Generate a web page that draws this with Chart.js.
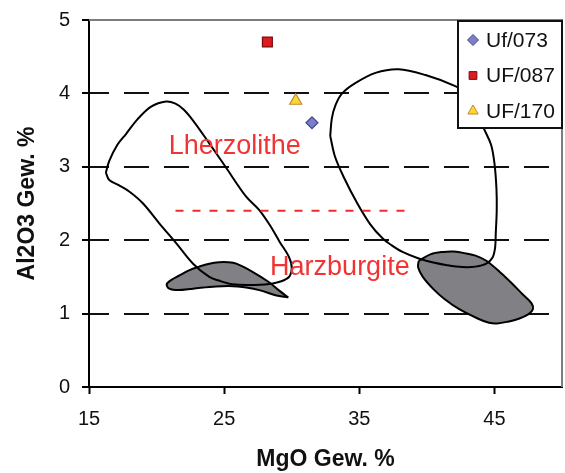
<!DOCTYPE html>
<html>
<head>
<meta charset="utf-8">
<script src="https://cdn.jsdelivr.net/npm/chart.js@4.4.1/dist/chart.umd.min.js"></script>
<style>
  html, body { margin: 0; padding: 0; background: #fff; }
  #wrap { width: 565px; height: 473px; position: relative; }
</style>
</head>
<body>
<div id="wrap"><canvas id="c"></canvas></div>
<script>
// Axis ticks
const xTickValues = [15, 25, 35, 45];
const yTickValues = [0, 1, 2, 3, 4, 5];

// Sample analyses: MgO and Al2O3 in wt. %
const sampleNames = ['Uf/073', 'UF/087', 'UF/170'];
const sampleMgO = [31.5, 28.2, 30.3];
const sampleAl2O3 = [3.6, 4.7, 3.9];

// Lherzolite field outline [MgO, Al2O3]
const lherzoliteField = [
  [16.25, 2.92], [16.5, 3.08], [17.1, 3.3], [17.75, 3.45], [18.6, 3.65], [19.6, 3.82],
  [20.7, 3.89], [21.4, 3.86], [22.0, 3.78], [22.7, 3.63], [23.9, 3.32], [25.1, 3.0],
  [26.6, 2.6], [27.6, 2.41], [28.4, 2.2], [29.1, 1.98], [29.8, 1.77], [30.0, 1.62],
  [29.75, 1.49], [28.6, 1.41], [27.0, 1.39], [25.6, 1.40], [24.6, 1.45], [23.9, 1.5],
  [22.7, 1.68], [21.45, 1.96], [20.2, 2.23], [19.0, 2.5], [18.0, 2.66], [17.2, 2.75],
  [16.5, 2.82], [16.25, 2.92]
];

// Harzburgite field outline [MgO, Al2O3]
const harzburgiteField = [
  [32.85, 3.42], [32.97, 3.66], [33.24, 3.84], [33.73, 4.0], [34.7, 4.14], [36.2, 4.28],
  [37.9, 4.33], [39.9, 4.25], [42.1, 4.1], [43.0, 3.99], [43.7, 3.78], [44.2, 3.53],
  [44.75, 3.3], [45.0, 3.05], [45.15, 2.7], [45.17, 2.4], [45.1, 2.1], [45.05, 1.9],
  [44.85, 1.76], [44.4, 1.68], [43.6, 1.64], [42.6, 1.635], [41.5, 1.66], [40.4, 1.7],
  [39.4, 1.75], [38.2, 1.84], [37.4, 1.93], [36.7, 2.03], [35.8, 2.22], [34.8, 2.52],
  [33.9, 2.84], [33.2, 3.14], [32.85, 3.42]
];

// Shaded core of the lherzolite group [MgO, Al2O3]
const lherzoliteCore = [
  [29.75, 1.22], [28.8, 1.25], [27.6, 1.32], [26.0, 1.37], [24.4, 1.37], [22.7, 1.34],
  [21.6, 1.32], [20.94, 1.34], [20.75, 1.4], [21.1, 1.46], [21.7, 1.52], [22.4, 1.59],
  [23.15, 1.64], [23.9, 1.68], [24.63, 1.70], [25.3, 1.7], [25.9, 1.68], [27.1, 1.57],
  [28.3, 1.43], [29.1, 1.31], [29.75, 1.22]
];

// Shaded core of the harzburgite group [MgO, Al2O3]
const harzburgiteCore = [
  [39.4, 1.72], [40.3, 1.81], [41.2, 1.84], [42.0, 1.845], [42.9, 1.82], [43.6, 1.79],
  [44.4, 1.72], [45.5, 1.55], [46.3, 1.41], [47.1, 1.26], [47.75, 1.14], [47.85, 1.06],
  [47.5, 0.99], [46.8, 0.93], [46.0, 0.89], [45.2, 0.865], [44.6, 0.875], [43.8, 0.93],
  [42.4, 1.06], [41.3, 1.2], [40.5, 1.33], [39.7, 1.5], [39.35, 1.63], [39.4, 1.72]
];

// Lherzolite / harzburgite boundary
const boundaryMgO = [21.4, 38.5];
const boundaryAl2O3 = [2.4, 2.4];

// Field names and their anchor points [MgO, Al2O3]
const fieldNames = ['Lherzolithe', 'Harzburgite'];
const fieldNameMgO = [20.9, 28.4];
const fieldNameAl2O3 = [3.27, 1.63];

const FONT = '"Liberation Sans", Arial, Helvetica, sans-serif';
const toXY = pts => pts.map(p => ({ x: p[0], y: p[1] }));

const sampleStyles = [
  { pointStyle: 'rectRot', radius: 6, bg: '#7b7fc8', border: '#46478e' },
  { pointStyle: 'rect', radius: 7, bg: '#dc1b1f', border: '#7a0a0a' },
  { pointStyle: 'triangle', radius: 7, bg: '#f6dc2a', border: '#c9843c' }
];

const sampleSets = sampleNames.map((name, i) => ({
  type: 'scatter',
  label: name,
  data: [{ x: sampleMgO[i], y: sampleAl2O3[i] }],
  pointStyle: sampleStyles[i].pointStyle,
  pointRadius: sampleStyles[i].radius,
  backgroundColor: sampleStyles[i].bg,
  borderColor: sampleStyles[i].border,
  borderWidth: 1.2
}));

const shapeSet = (pts, filled) => ({
  type: 'line',
  data: toXY(pts),
  borderColor: '#000',
  borderWidth: 2,
  backgroundColor: filled ? '#808085' : 'transparent',
  fill: filled ? 'shape' : false,
  tension: 0.35,
  pointRadius: 0
});

const datasets = [
  ...sampleSets,
  {
    type: 'line',
    data: boundaryMgO.map((x, i) => ({ x, y: boundaryAl2O3[i] })),
    borderColor: '#f42a2a',
    borderWidth: 2,
    borderDash: [8, 9],
    pointRadius: 0,
    fill: false
  },
  shapeSet(lherzoliteField, false),
  shapeSet(harzburgiteField, false),
  shapeSet(lherzoliteCore, true),
  shapeSet(harzburgiteCore, true)
];

// Background, field names, frame and the boxed legend
const decor = {
  id: 'decor',
  beforeDraw(chart) {
    const ctx = chart.ctx;
    ctx.save();
    ctx.fillStyle = '#fff';
    ctx.fillRect(0, 0, chart.width, chart.height);
    ctx.restore();
  },
  afterDatasetsDraw(chart) {
    const { ctx, chartArea: a, scales: { x, y } } = chart;
    ctx.save();
    ctx.font = '27px ' + FONT;
    ctx.fillStyle = '#f03434';
    ctx.textAlign = 'left';
    ctx.textBaseline = 'middle';
    fieldNames.forEach((t, i) => {
      ctx.fillText(t, x.getPixelForValue(fieldNameMgO[i]), y.getPixelForValue(fieldNameAl2O3[i]));
    });
    // top and right frame
    ctx.strokeStyle = '#7d7d7d';
    ctx.lineWidth = 2;
    ctx.beginPath();
    ctx.moveTo(a.left, a.top);
    ctx.lineTo(a.right, a.top);
    ctx.lineTo(a.right, a.bottom);
    ctx.stroke();
    ctx.restore();
  },
  afterDraw(chart) {
    const { ctx, chartArea: a } = chart;
    const boxW = 104, boxH = 107, rowH = 35.5;
    const bx = a.right - boxW, by = a.top + 1;
    ctx.save();
    ctx.fillStyle = '#fff';
    ctx.fillRect(bx, by, boxW, boxH);
    ctx.strokeStyle = '#111';
    ctx.lineWidth = 2;
    ctx.strokeRect(bx, by, boxW, boxH);
    ctx.font = '21px ' + FONT;
    ctx.textAlign = 'left';
    ctx.textBaseline = 'middle';
    sampleSets.forEach((ds, i) => {
      const cy = by + 19 + i * rowH;
      const st = sampleStyles[i];
      ctx.fillStyle = st.bg;
      ctx.strokeStyle = st.border;
      ctx.lineWidth = 1;
      Chart.helpers.drawPoint(ctx, {
        pointStyle: st.pointStyle, radius: i === 2 ? 6 : 5.5, rotation: 0, borderWidth: 1
      }, bx + 15, cy);
      ctx.fillStyle = '#111';
      ctx.fillText(ds.label, bx + 28, cy + 1);
    });
    ctx.restore();
  }
};

new Chart(document.getElementById('c'), {
  type: 'scatter',
  data: { datasets },
  plugins: [decor],
  options: {
    responsive: true,
    maintainAspectRatio: false,
    animation: false,
    events: [],
    layout: { autoPadding: false, padding: { left: 0, top: 20, right: 3, bottom: 0 } },
    plugins: { legend: { display: false }, tooltip: { enabled: false } },
    scales: {
      x: {
        type: 'linear',
        min: 15,
        max: 50,
        afterBuildTicks: s => { s.ticks = xTickValues.map(v => ({ value: v })); },
        afterFit: s => { s.height = 86; s.paddingLeft = 0; s.paddingRight = 0; },
        grid: { drawOnChartArea: false, tickLength: 7, tickColor: '#000', tickWidth: 2 },
        border: { display: true, color: '#000', width: 2 },
        ticks: { font: { family: FONT, size: 20 }, color: '#111', padding: 13, maxRotation: 0 },
        title: {
          display: true, text: 'MgO Gew. %', color: '#111',
          font: { family: FONT, size: 23, weight: 'bold' }, padding: { top: 0, bottom: 0 }
        }
      },
      y: {
        type: 'linear',
        min: 0,
        max: 5,
        afterBuildTicks: s => { s.ticks = yTickValues.map(v => ({ value: v })); },
        afterFit: s => { s.width = 89; s.paddingTop = 0; s.paddingBottom = 0; },
        grid: {
          color: c => (c.tick && c.tick.value > 0 && c.tick.value < 5) ? '#111' : 'transparent',
          lineWidth: 2, tickLength: 7, tickColor: '#000', tickWidth: 2
        },
        border: { display: true, color: '#000', width: 2, dash: [25, 15], dashOffset: 6 },
        ticks: { font: { family: FONT, size: 20 }, color: '#111', padding: 12 },
        title: {
          display: true, text: 'Al2O3 Gew. %', color: '#111',
          font: { family: FONT, size: 23, weight: 'bold' }, padding: { top: 14, bottom: 0 }
        }
      }
    }
  }
});
</script>
</body>
</html>
